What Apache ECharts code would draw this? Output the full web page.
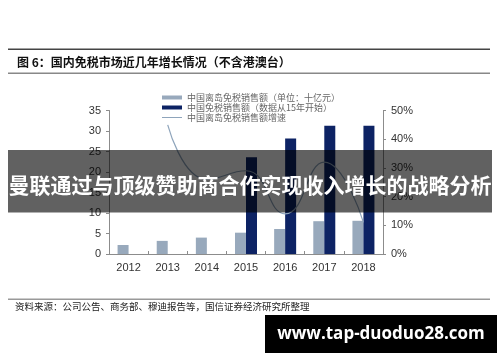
<!DOCTYPE html>
<html><head><meta charset="utf-8">
<script src="https://cdn.jsdelivr.net/npm/echarts@6/dist/echarts.min.js"></script>
<style>html,body{margin:0;padding:0;background:#fff}#c{width:500px;height:362px}</style>
</head><body><div id="c"></div>
<script>
const years = ['2012','2013','2014','2015','2016','2017','2018'];
const hainanSales = [2.2, 3.2, 4.0, 5.2, 6.1, 8.0, 8.1];
const chinaSales = [null, null, null, 23.6, 28.2, 31.3, 31.3];
const hainanGrowth = [null, 45, 26, 29, 14, 32, 11];
const leftTicks = {min: 0, max: 35, interval: 5};
const rightTicks = {min: 0, max: 50, interval: 10};
const names = ['中国离岛免税销售额（单位：十亿元）', '中国免税销售额（数据从15年开始）', '中国离岛免税销售额增速'];

const chart = echarts.init(document.getElementById('c'), null, {renderer: 'canvas'});
const axisCommon = {
  axisLine: {show: true, lineStyle: {color: '#8c8c8c', width: 1}},
  axisTick: {show: true, length: 3, lineStyle: {color: '#8c8c8c'}},
  splitLine: {show: false},
  axisLabel: {color: '#333', fontSize: 11, fontFamily: 'Liberation Sans, Arial'}
};
chart.setOption({
  animation: false,
  grid: {left: 109, right: 117, top: 110.5, bottom: 108},
  legend: {
    orient: 'vertical', left: 157, top: 88, itemWidth: 20, itemHeight: 4, itemGap: 1,
    textStyle: {color: '#666', fontSize: 9, lineHeight: 9, fontFamily: 'Noto Sans CJK SC'},
    data: [
      {name: names[0], icon: 'rect'},
      {name: names[1], icon: 'rect'},
      {name: names[2], icon: 'path://M0,0L20,0L20,1L0,1Z', itemStyle: {color: '#8ea4bb'}}
    ]
  },
  xAxis: {
    type: 'category', data: years,
    axisLine: {lineStyle: {color: '#8c8c8c'}},
    axisTick: {show: true, inside: true, length: 3, lineStyle: {color: '#8c8c8c'}},
    axisLabel: {color: '#333', fontSize: 11, fontFamily: 'Liberation Sans, Arial', margin: 8}
  },
  yAxis: [
    Object.assign({type: 'value', position: 'left'}, leftTicks, axisCommon),
    Object.assign({type: 'value', position: 'right'}, rightTicks, axisCommon,
      {axisLabel: Object.assign({}, axisCommon.axisLabel, {formatter: '{value}%'})})
  ],
  series: [
    {name: names[0], type: 'bar', data: hainanSales, barWidth: 11, barGap: '0%',
     itemStyle: {color: '#98a9bc'}},
    {name: names[1], type: 'bar', data: chinaSales, barWidth: 11, barGap: '0%',
     itemStyle: {color: '#0d2364'}},
    {name: names[2], type: 'line', yAxisIndex: 1, data: hainanGrowth, smooth: 0.5,
     symbol: 'none', lineStyle: {color: '#8ea4bb', width: 1.2}, z: 5}
  ],
  graphic: [
    {type: 'rect', shape: {x: 8, y: 48.5, width: 482, height: 1.5}, style: {fill: '#444'}},
    {type: 'text', x: 17, y: 62, style: {text: '图 6：国内免税市场近几年增长情况（不含港澳台）', fill: '#111',
      font: 'bold 12px "Noto Sans CJK SC"', textVerticalAlign: 'middle'}},
    {type: 'rect', shape: {x: 8, y: 72.5, width: 482, height: 1.5}, style: {fill: '#888'}},
    {type: 'rect', shape: {x: 8, y: 298.5, width: 482, height: 1.5}, style: {fill: '#999'}},
    {type: 'text', x: 15, y: 306, style: {text: '资料来源：公司公告、商务部、穆迪报告等，国信证券经济研究所整理', fill: '#222',
      font: '9.5px "Noto Sans CJK SC"', textVerticalAlign: 'middle'}},
    {type: 'rect', z: 100, shape: {x: 8, y: 150, width: 484, height: 62.5}, style: {fill: 'rgba(0,0,0,0.62)'}},
    {type: 'text', z: 101, x: 250, y: 185, style: {text: '曼联通过与顶级赞助商合作实现收入增长的战略分析', fill: '#fff',
      font: 'bold 21px "Noto Sans CJK SC"', textAlign: 'center', textVerticalAlign: 'middle'}},
    {type: 'rect', z: 100, shape: {x: 265, y: 315, width: 232, height: 38}, style: {fill: '#000'}},
    {type: 'text', z: 101, x: 381, y: 334, style: {text: 'www.tap-duoduo28.com', fill: '#fff',
      font: 'bold 17px "Open Sans", "DejaVu Sans"', textAlign: 'center', textVerticalAlign: 'middle'}}
  ]
});
</script></body></html>
